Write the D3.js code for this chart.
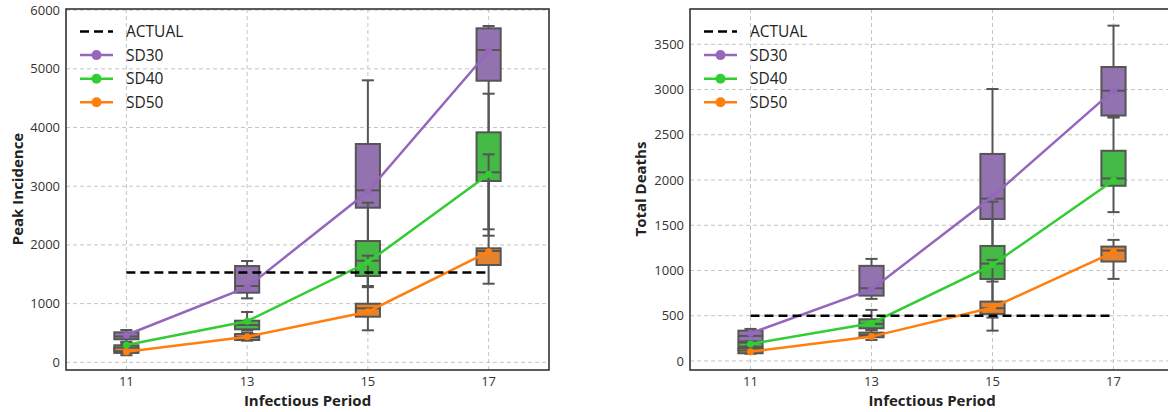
<!DOCTYPE html>
<html>
<head>
<meta charset="utf-8">
<script src="https://cdn.jsdelivr.net/npm/d3@7"></script>
<style>
  body { margin: 0; background: #fff; }
  svg { display: block; font-family: "Open Sans", "DejaVu Sans", sans-serif; }
</style>
</head>
<body>
<svg id="chart" width="1168" height="412"></svg>
<script>
// x positions
const periods = [11, 13, 15, 17];
const seriesNames = ["SD30", "SD40", "SD50"];

// peak incidence: lines (means) and boxes [low whisker, q1, median, q3, high whisker]
const peakActual = 1530;
const peakLineSD30 = [465, 1280, 2910, 5300];
const peakLineSD40 = [295, 700, 1704, 3203];
const peakLineSD50 = [180, 436, 862, 1884];
const peakBoxSD30 = [[350, 392, 440, 511, 550], [1090, 1186, 1300, 1640, 1726], [1280, 2634, 2930, 3719, 4804], [2157, 4797, 5320, 5690, 5729]];
const peakBoxSD40 = [[150, 190, 240, 290, 330], [540, 562, 635, 709, 857], [1300, 1470, 1731, 2066, 2719], [2266, 3089, 3237, 3918, 4576]];
const peakBoxSD50 = [[120, 160, 190, 250, 300], [368, 380, 430, 482, 500], [545, 777, 920, 998, 1816], [1339, 1658, 1896, 1942, 3543]];
const peakTicks = [0, 1000, 2000, 3000, 4000, 5000, 6000];

// total deaths
const deathActual = 500;
const deathLineSD30 = [306, 790, 1818, 2990];
const deathLineSD40 = [188, 417, 1062, 1995];
const deathLineSD50 = [103, 269, 590, 1202];
const deathBoxSD30 = [[200, 214, 277, 335, 354], [686, 722, 804, 1051, 1128], [877, 1569, 1794, 2288, 3006], [2690, 2713, 2987, 3249, 3706]];
const deathBoxSD40 = [[110, 122, 158, 202, 215], [340, 361, 409, 461, 564], [479, 906, 1076, 1271, 1761], [1645, 1936, 2017, 2323, 2700]];
const deathBoxSD50 = [[80, 85, 115, 140, 160], [232, 262, 287, 313, 340], [335, 520, 583, 656, 1117], [907, 1099, 1220, 1264, 1338]];
const deathTicks = [0, 500, 1000, 1500, 2000, 2500, 3000, 3500];

const lineColors = ["#9467bd", "#32cd32", "#ff7f0e"];
const boxColors = ["#9372b0", "#45b945", "#e3832f"];
const edge = "#555555";

const svg = d3.select("#chart");

function drawPanel(opt) {
  const x = d3.scaleLinear().domain([10, 18]).range([opt.left, opt.right]);
  const y = d3.scaleLinear().domain(opt.yDomain).range([370, 9]);
  const g = svg.append("g");

  // grid
  g.append("g").selectAll("line").data(opt.ticks).join("line")
    .attr("x1", opt.left).attr("x2", opt.right)
    .attr("y1", d => y(d)).attr("y2", d => y(d))
    .attr("stroke", "#c4c4c4").attr("stroke-width", 1).attr("stroke-dasharray", "4,3");
  g.append("g").selectAll("line").data(periods).join("line")
    .attr("x1", d => x(d)).attr("x2", d => x(d))
    .attr("y1", 9).attr("y2", 370)
    .attr("stroke", "#c4c4c4").attr("stroke-width", 1).attr("stroke-dasharray", "4,3");

  // boxes, drawn series by series so later ones sit on top
  const bw = x(10.2) - x(10);
  opt.boxes.forEach((stats, si) => {
    const bg = g.append("g");
    stats.forEach((s, i) => {
      const cx = x(periods[i]);
      const [lo, q1, med, q3, hi] = s;
      bg.append("line").attr("x1", cx).attr("x2", cx).attr("y1", y(q1)).attr("y2", y(lo))
        .attr("stroke", edge).attr("stroke-width", 2);
      bg.append("line").attr("x1", cx).attr("x2", cx).attr("y1", y(q3)).attr("y2", y(hi))
        .attr("stroke", edge).attr("stroke-width", 2);
      bg.append("rect").attr("x", cx - bw).attr("width", bw * 2)
        .attr("y", y(q3)).attr("height", y(q1) - y(q3))
        .attr("fill", boxColors[si]).attr("stroke", edge).attr("stroke-width", 2);
      bg.append("line").attr("x1", cx - bw).attr("x2", cx + bw).attr("y1", y(med)).attr("y2", y(med))
        .attr("stroke", edge).attr("stroke-width", 2);
      [lo, hi].forEach(v => {
        bg.append("line").attr("x1", cx - bw / 2).attr("x2", cx + bw / 2).attr("y1", y(v)).attr("y2", y(v))
          .attr("stroke", edge).attr("stroke-width", 2);
      });
    });
  });

  // mean lines
  const line = d3.line().x((d, i) => x(periods[i])).y(d => y(d));
  opt.lines.forEach((vals, si) => {
    g.append("path").attr("d", line(vals)).attr("fill", "none")
      .attr("stroke", lineColors[si]).attr("stroke-width", 2.5);
    g.append("g").selectAll("circle").data(vals).join("circle")
      .attr("cx", (d, i) => x(periods[i])).attr("cy", d => y(d)).attr("r", 3.5)
      .attr("fill", lineColors[si]);
  });

  // actual
  g.append("line").attr("x1", x(11)).attr("x2", x(17))
    .attr("y1", y(opt.actual)).attr("y2", y(opt.actual))
    .attr("stroke", "#000").attr("stroke-width", 2.5).attr("stroke-dasharray", "9,5");

  // frame
  g.append("rect").attr("x", opt.left).attr("y", 9)
    .attr("width", opt.right - opt.left).attr("height", 361)
    .attr("fill", "none").attr("stroke", "#333").attr("stroke-width", 1.6);

  // tick labels
  g.append("g").selectAll("text").data(opt.ticks).join("text")
    .attr("x", opt.left - 6).attr("y", d => y(d)).attr("dy", "0.35em")
    .attr("text-anchor", "end").attr("font-size", 13).attr("fill", "#333")
    .text(d => d);
  g.append("g").selectAll("text").data(periods).join("text")
    .attr("x", d => x(d)).attr("y", 386)
    .attr("text-anchor", "middle").attr("font-size", 13).attr("fill", "#333")
    .text(d => d);

  // axis titles
  g.append("text").attr("x", x(14)).attr("y", 406)
    .attr("text-anchor", "middle").attr("font-size", 15).attr("font-weight", "bold").attr("fill", "#222")
    .text("Infectious Period");
  g.append("text").attr("transform", `translate(${opt.labelX},189) rotate(-90)`)
    .attr("text-anchor", "middle").attr("font-size", 15).attr("font-weight", "bold").attr("fill", "#222")
    .text(opt.yLabel);

  // legend
  const lx = opt.left + 14;
  const rows = ["ACTUAL"].concat(seriesNames);
  rows.forEach((name, i) => {
    const ly = 31.5 + i * 23.6;
    if (i === 0) {
      g.append("line").attr("x1", lx).attr("x2", lx + 33).attr("y1", ly).attr("y2", ly)
        .attr("stroke", "#000").attr("stroke-width", 2.5).attr("stroke-dasharray", "9,5");
    } else {
      g.append("line").attr("x1", lx).attr("x2", lx + 33).attr("y1", ly).attr("y2", ly)
        .attr("stroke", lineColors[i - 1]).attr("stroke-width", 2.5);
      g.append("circle").attr("cx", lx + 16.5).attr("cy", ly).attr("r", 5)
        .attr("fill", lineColors[i - 1]);
    }
    g.append("text").attr("x", lx + 46).attr("y", ly).attr("dy", "0.35em")
      .attr("font-size", 15.5).attr("fill", "#222").text(name);
  });
}

drawPanel({
  left: 66, right: 549, yDomain: [-131, 6019], ticks: peakTicks,
  boxes: [peakBoxSD30, peakBoxSD40, peakBoxSD50],
  lines: [peakLineSD30, peakLineSD40, peakLineSD50],
  actual: peakActual, yLabel: "Peak Incidence", labelX: 23
});

drawPanel({
  left: 690, right: 1174, yDomain: [-100, 3890], ticks: deathTicks,
  boxes: [deathBoxSD30, deathBoxSD40, deathBoxSD50],
  lines: [deathLineSD30, deathLineSD40, deathLineSD50],
  actual: deathActual, yLabel: "Total Deaths", labelX: 646
});
</script>
</body>
</html>
